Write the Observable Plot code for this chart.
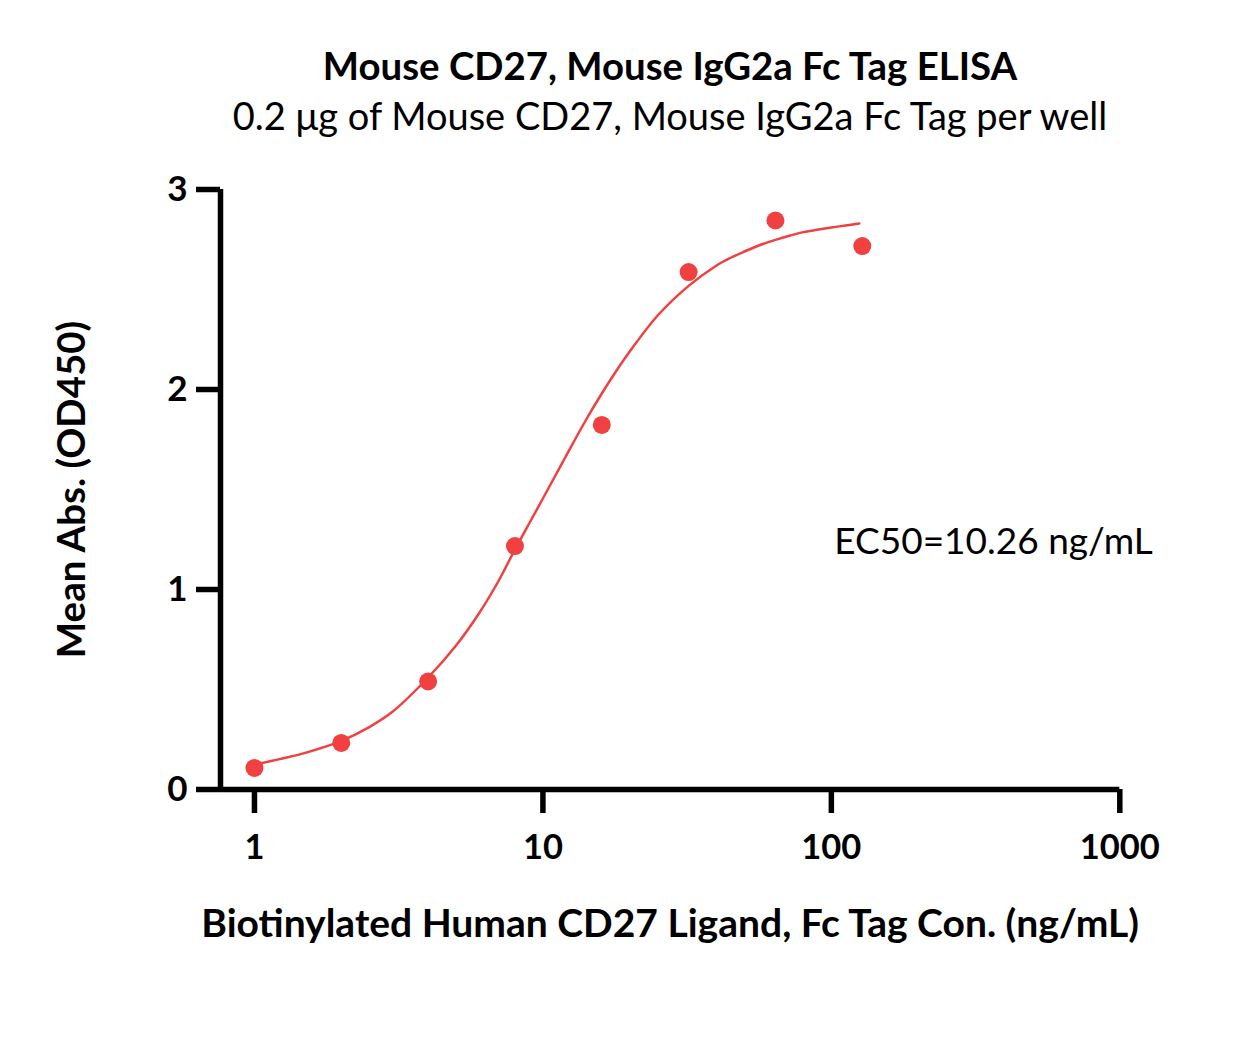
<!DOCTYPE html>
<html>
<head>
<meta charset="utf-8">
<script src="https://cdn.jsdelivr.net/npm/d3@7"></script>
<script src="https://cdn.jsdelivr.net/npm/@observablehq/plot@0.6"></script>
<style>
  html, body { margin: 0; padding: 0; background: #fff; }
  #wrap { position: relative; width: 1245px; height: 1044px; font-family: Lato, "Open Sans", sans-serif; color: #000; }
  #header { position: relative; height: 150px; }
  .t { position: absolute; left: 670px; transform: translateX(-50%); white-space: nowrap; line-height: 1; }
  #title { top: 46px; font-size: 38.4px; font-weight: bold; }
  #subtitle { top: 96px; font-size: 38px; }
</style>
</head>
<body>
<div id="wrap">
  <div id="header">
    <div class="t" id="title">Mouse CD27, Mouse IgG2a Fc Tag ELISA</div>
    <div class="t" id="subtitle">0.2 μg of Mouse CD27, Mouse IgG2a Fc Tag per well</div>
  </div>
  <div id="chart"></div>
</div>
<script>
// Measured points
const concentrations = [1, 2, 4, 8, 16, 32, 64, 128];
const meanAbs = [0.108, 0.233, 0.54, 1.217, 1.823, 2.587, 2.845, 2.717];

// Fitted curve
const curveX = [1, 1.25, 1.5, 2, 2.5, 3, 4, 5, 6, 7, 8, 9, 10, 11, 12, 14, 16, 18, 20, 25, 32, 40, 45, 50, 56, 64, 72, 80, 90, 100, 112, 125];
const curveY = [0.125, 0.155, 0.183, 0.243, 0.312, 0.387, 0.56, 0.72, 0.88, 1.04, 1.20, 1.335, 1.455, 1.565, 1.665, 1.84, 1.98, 2.095, 2.19, 2.37, 2.518, 2.62, 2.66, 2.69, 2.72, 2.748, 2.77, 2.787, 2.80, 2.81, 2.82, 2.83];

const xTicks = [1, 10, 100, 1000];
const yTicks = [0, 1, 2, 3];
const xDomain = [0.7625, 1000];
const yDomain = [0, 3];

const xLabel = "Biotinylated Human CD27 Ligand, Fc Tag Con. (ng/mL)";
const yLabel = "Mean Abs. (OD450)";
const ec50Label = "EC50=10.26 ng/mL";

const red = "#f0403f";

const points = concentrations.map((c, i) => ({x: c, y: meanAbs[i]}));
const curve = curveX.map((c, i) => ({x: c, y: curveY[i]}));

const chart = Plot.plot({
  width: 1245,
  height: 894,
  marginLeft: 220,
  marginRight: 125.7,
  marginTop: 39,
  marginBottom: 255,
  style: {fontFamily: "Lato, 'Open Sans', sans-serif", color: "#000", background: "#fff"},
  x: {type: "log", domain: xDomain},
  y: {domain: yDomain},
  marks: [
    Plot.ruleY([yDomain[0]], {stroke: "#000", strokeWidth: 5.5}),
    Plot.ruleX([xDomain[0]], {y1: yDomain[0], y2: yDomain[1], stroke: "#000", strokeWidth: 5.5}),
    Plot.axisX({ticks: xTicks, tickFormat: d => String(d), tickSize: 24, tickPadding: 21, strokeWidth: 5.5, fontSize: 34.5, fontWeight: "bold", label: null}),
    Plot.axisY({ticks: yTicks, tickFormat: d => String(d), tickSize: 24, tickPadding: 9, strokeWidth: 5.5, fontSize: 35, fontWeight: "bold", label: null}),
    Plot.line(curve, {x: "x", y: "y", stroke: red, strokeWidth: 2.5, curve: "catmull-rom"}),
    Plot.dot(points, {x: "x", y: "y", r: 9, fill: red, stroke: "none"}),
    Plot.text([yLabel], {frameAnchor: "left", textAnchor: "middle", rotate: -90, dx: -148, fontSize: 38.5, fontWeight: "bold", fill: "#000"}),
    Plot.text([xLabel], {frameAnchor: "bottom", textAnchor: "middle", dy: 147, fontSize: 39, fontWeight: "bold", fill: "#000"}),
    Plot.text([ec50Label], {frameAnchor: "right", textAnchor: "end", dx: 33, dy: 53, fontSize: 37, fill: "#000"})
  ]
});
document.getElementById("chart").appendChild(chart);
</script>
</body>
</html>
